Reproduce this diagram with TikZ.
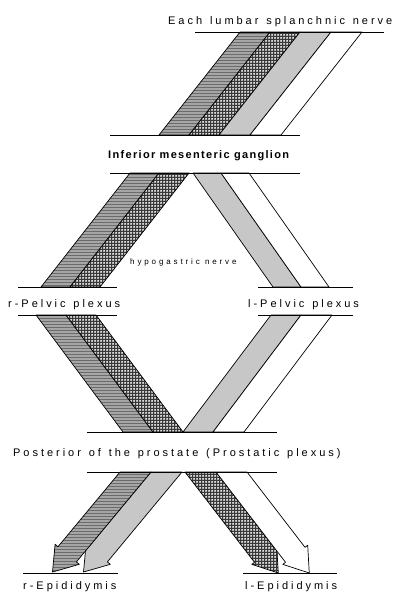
\documentclass[tikz,border=0pt]{standalone}
\usepackage{fontspec}
\setmainfont{Liberation Sans}
\newfontfamily\labfont[LetterSpace=27,WordSpace=1.3]{Liberation Sans}
\newfontfamily\ganfont[LetterSpace=12]{Liberation Sans}
\newfontfamily\hypfont[LetterSpace=36]{Liberation Sans}
\usetikzlibrary{patterns}
\pgfdeclarepatternformonly{hstripes}{\pgfpoint{-1pt}{-1pt}}{\pgfpoint{4pt}{4pt}}{\pgfpoint{3pt}{3pt}}{\pgfpathrectangle{\pgfpoint{-1pt}{0pt}}{\pgfpoint{5pt}{0.9pt}}\pgfusepath{fill}}
\pgfdeclarepatternformonly{chkgrid}{\pgfpoint{-1pt}{-1pt}}{\pgfpoint{4pt}{4pt}}{\pgfpoint{3pt}{3pt}}{\pgfpathrectangle{\pgfpoint{-1pt}{0pt}}{\pgfpoint{5pt}{1pt}}\pgfpathrectangle{\pgfpoint{0pt}{-1pt}}{\pgfpoint{1pt}{5pt}}\pgfusepath{fill}}
\tikzset{
  stripes/.style={fill=black!35, postaction={pattern=hstripes, pattern color=black!58}, postaction={draw=black, line width=0.7pt, line join=round}},
  checks/.style={fill=black!12, postaction={pattern=chkgrid, pattern color=black!78}, postaction={draw=black, line width=0.7pt, line join=round}},
  lgray/.style={fill=black!22, draw=black, line width=0.7pt, line join=round},
  wband/.style={fill=white, draw=black, line width=0.7pt, line join=round},
  bar/.style={draw=black, line width=1pt},
  lab/.style={inner sep=0pt, anchor=base west, text=black, font=\fontsize{11}{13}\labfont},
  gan/.style={inner sep=0pt, anchor=base west, text=black, font=\fontsize{11}{13}\ganfont\bfseries},
  hyp/.style={inner sep=0pt, anchor=base west, text=black, font=\fontsize{8}{9}\hypfont}
}
\begin{document}
\begin{tikzpicture}[x=1pt, y=-1pt]
\useasboundingbox (0,0) rectangle (399,592);
% section A: lumbar splanchnic nerve -> inferior mesenteric ganglion
\path[stripes] (240,32)--(270,32)--(189,135)--(159,135)--cycle;
\path[checks]  (270,32)--(300,32)--(219,135)--(189,135)--cycle;
\path[lgray]   (300,32)--(331,32)--(250,135)--(219,135)--cycle;
\path[wband]   (331,32)--(362,32)--(281,135)--(250,135)--cycle;
% section B: ganglion -> pelvic plexus
\path[stripes] (130,173)--(159,173)--(70,287)--(41,287)--cycle;
\path[checks]  (159,173)--(189,173)--(100,287)--(70,287)--cycle;
\path[lgray]   (193,173)--(221,173)--(301,287)--(273,287)--cycle;
\path[wband]   (221,173)--(249,173)--(329,287)--(301,287)--cycle;
% section C: pelvic plexus -> prostate
\path[stripes] (36,315)--(66,315)--(153,432)--(123,432)--cycle;
\path[checks]  (66,315)--(96,315)--(183,432)--(153,432)--cycle;
\path[lgray]   (271,315)--(301,315)--(213,432)--(183,432)--cycle;
\path[wband]   (301,315)--(332,315)--(244,432)--(213,432)--cycle;
% section D: prostate -> epididymis (broad arrows)
\path[lgray]   (151,472)--(182,472)--(107.37,561.92)--(110.27,564.33)--(83.5,572)--(86.11,544.27)--(89.01,546.68)--cycle;
\path[stripes] (120,472)--(151,472)--(76.37,561.92)--(79.27,564.33)--(52.5,572)--(55.11,544.27)--(58.01,546.68)--cycle;
\path[checks]  (185,472)--(216,472)--(273.98,547.29)--(276.69,545.20)--(278.28,573)--(251.81,564.36)--(254.52,562.27)--cycle;
\path[wband]   (216,472)--(247,472)--(304.98,547.29)--(307.69,545.20)--(309.28,573)--(282.81,564.36)--(285.52,562.27)--cycle;
% bars
\draw[bar] (195,32)--(384,32);
\draw[bar] (110,135)--(300,135);
\draw[bar] (110,173)--(300,173);
\draw[bar] (18,287)--(117,287);
\draw[bar] (18,315)--(117,315);
\draw[bar] (258,287)--(353,287);
\draw[bar] (258,315)--(353,315);
\draw[bar] (87,432)--(277,432);
\draw[bar] (87,472)--(277,472);
\draw[bar] (23,573)--(118,573);
\draw[bar] (243,573)--(337,573);
% labels
\node[lab] (lumbar) at (168,24) {Each lumbar splanchnic nerve};
\node[gan] (ganglion) at (108,158) {Inferior mesenteric ganglion};
\node[hyp] (hypog) at (130,264) {hypogastric nerve};
\node[lab] (rpelvic) at (8,307) {r-Pelvic plexus};
\node[lab] (lpelvic) at (248,307) {l-Pelvic plexus};
\node[lab] (prostate) at (13,456.5) {Posterior of the prostate (Prostatic plexus)};
\node[lab] (repid) at (23,589) {r-Epididymis};
\node[lab] (lepid) at (245,589) {l-Epididymis};
\end{tikzpicture}
\end{document}
